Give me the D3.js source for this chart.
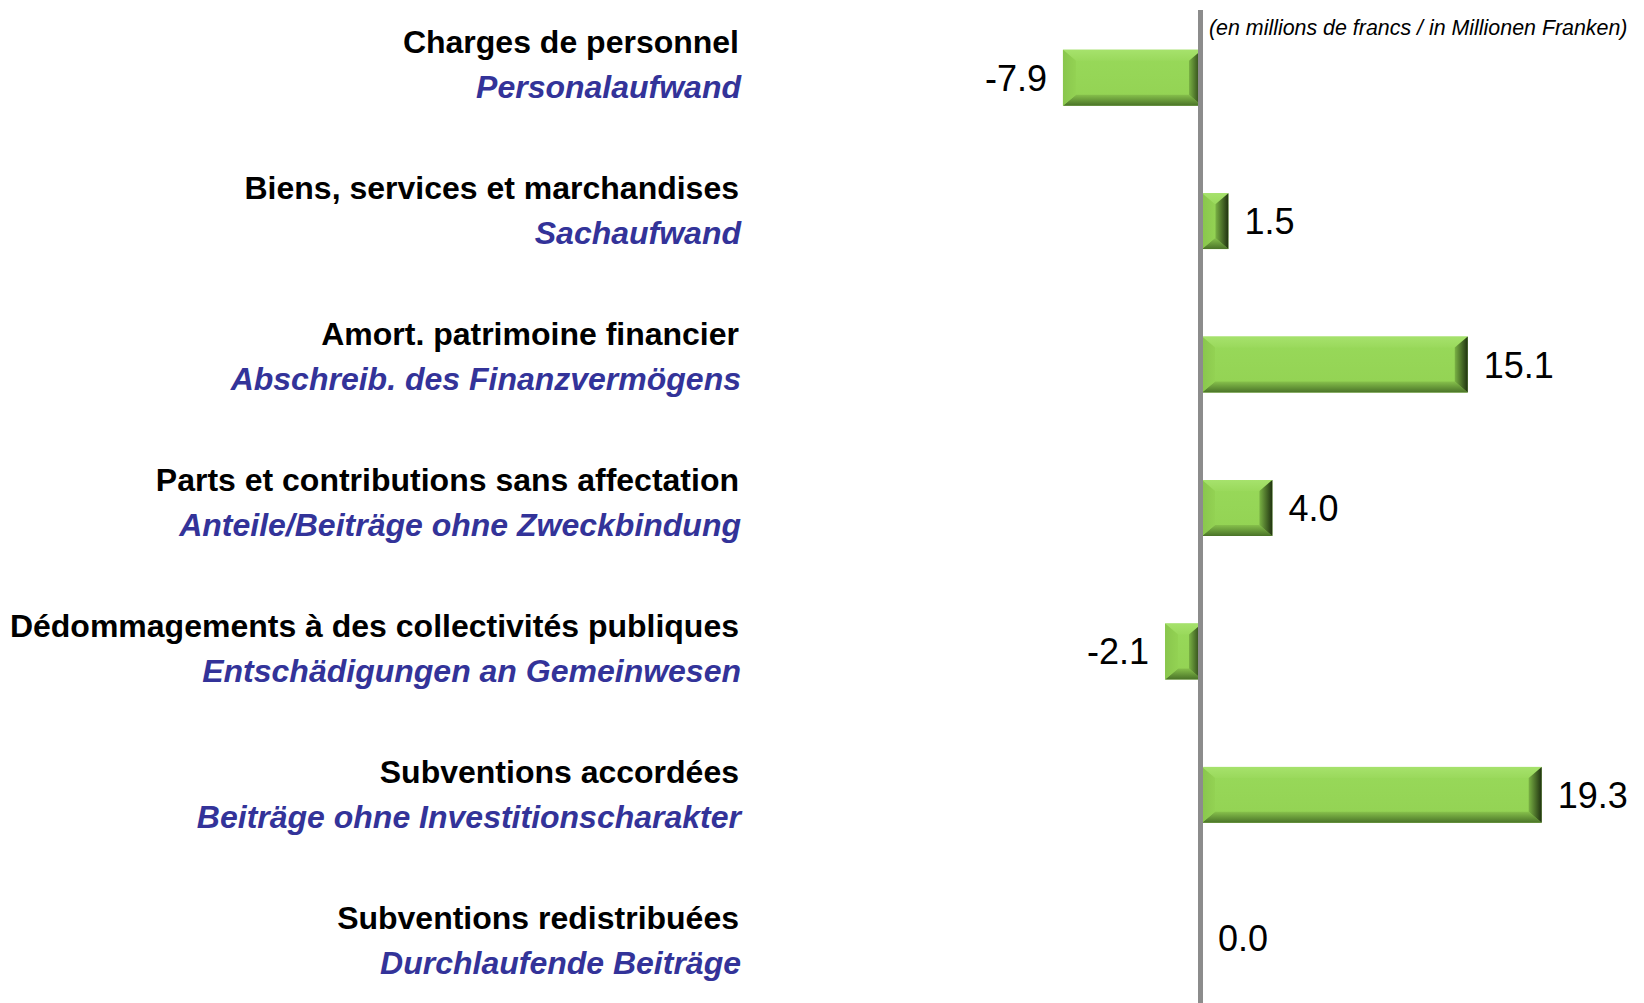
<!DOCTYPE html>
<html>
<head>
<meta charset="utf-8">
<script src="https://cdn.jsdelivr.net/npm/d3@7"></script>
<style>
  body { margin: 0; background: #fff; }
  svg { display: block; }
</style>
</head>
<body>
<div id="chart"></div>
<script>
// data
const labelsFr = [
  "Charges de personnel",
  "Biens, services et marchandises",
  "Amort. patrimoine financier",
  "Parts et contributions sans affectation",
  "Dédommagements à des collectivités publiques",
  "Subventions accordées",
  "Subventions redistribuées"
];
const labelsDe = [
  "Personalaufwand",
  "Sachaufwand",
  "Abschreib. des Finanzvermögens",
  "Anteile/Beiträge ohne Zweckbindung",
  "Entschädigungen an Gemeinwesen",
  "Beiträge ohne Investitionscharakter",
  "Durchlaufende Beiträge"
];
const values = [-7.9, 1.5, 15.1, 4.0, -2.1, 19.3, 0.0];
const unitNote = "(en millions de francs / in Millionen Franken)";

const width = 1644, height = 1003;

const svg = d3.select("#chart")
  .append("svg")
  .attr("width", width)
  .attr("height", height);

const data = values.map((v, i) => ({ fr: labelsFr[i], de: labelsDe[i], value: v, key: i }));

// scales
const x = d3.scaleLinear().domain([-10, 20]).range([1026, 1554]);
const y = d3.scaleBand()
  .domain(data.map(d => d.key))
  .range([6, 1010])
  .paddingInner(0.61)
  .paddingOuter(0.305);
// the category labels sit on a slightly wider grid than the bars
const yLab = d3.scalePoint()
  .domain(data.map(d => d.key))
  .range([64.5, 940]);

// gradients for the bevel look
const defs = svg.append("defs");
function grad(id, x1, y1, x2, y2, stops) {
  const g = defs.append("linearGradient").attr("id", id)
    .attr("x1", x1).attr("y1", y1).attr("x2", x2).attr("y2", y2);
  stops.forEach(s => g.append("stop").attr("offset", s[0]).attr("stop-color", s[1]));
}
grad("face", 0, 0, 0, 1, [[0, "#98d95a"], [1, "#93d253"]]);
grad("bevTop", 0, 0, 0, 1, [[0, "#a6e26c"], [1, "#9ad95c"]]);
grad("bevBot", 0, 0, 0, 1, [[0, "#86c04b"], [1, "#4a7328"]]);
grad("bevLeft", 0, 0, 1, 0, [[0, "#89c64d"], [1, "#93d253"]]);
grad("bevRight", 0, 0, 1, 0, [[0, "#7ab244"], [1, "#1f3210"]]);

const bev = 11;
const bars = svg.append("g").selectAll("g")
  .data(data.filter(d => d.value !== 0))
  .join("g");

bars.each(function (d) {
  const g = d3.select(this);
  const x0 = x(Math.min(0, d.value)), x1 = x(Math.max(0, d.value));
  const y0 = y(d.key), y1 = y(d.key) + y.bandwidth();
  const b = Math.min(bev + 2, (x1 - x0) / 2);
  g.append("rect")
    .attr("x", x0).attr("y", y0)
    .attr("width", x1 - x0).attr("height", y1 - y0)
    .attr("fill", "url(#face)");
  const poly = (pts, fill) => g.append("polygon")
    .attr("points", pts.map(p => p.join(",")).join(" "))
    .attr("fill", fill);
  poly([[x0, y0], [x1, y0], [x1 - b, y0 + bev], [x0 + b, y0 + bev]], "url(#bevTop)");
  poly([[x0, y1], [x1, y1], [x1 - b, y1 - bev], [x0 + b, y1 - bev]], "url(#bevBot)");
  poly([[x0, y0], [x0 + b, y0 + bev], [x0 + b, y1 - bev], [x0, y1]], "url(#bevLeft)");
  poly([[x1, y0], [x1 - b, y0 + bev], [x1 - b, y1 - bev], [x1, y1]], "url(#bevRight)");
});

// zero axis line
svg.append("line")
  .attr("x1", x(0) - 1.5).attr("x2", x(0) - 1.5)
  .attr("y1", 10).attr("y2", height)
  .attr("stroke", "#8c8c8c")
  .attr("stroke-width", 5);

// value labels (plain hyphen for negatives, like the original)
const fmt = v => (v < 0 ? "-" : "") + Math.abs(v).toFixed(1);
svg.append("g").selectAll("text")
  .data(data)
  .join("text")
  .attr("x", d => d.value < 0 ? x(d.value) - 16 : x(d.value) + 16)
  .attr("y", d => y(d.key) + y.bandwidth() / 2)
  .attr("dy", "0.36em")
  .attr("text-anchor", d => d.value < 0 ? "end" : "start")
  .style("font-family", "'Liberation Sans', Arial, sans-serif")
  .style("font-size", "36px")
  .attr("fill", "#000")
  .text(d => fmt(d.value));

// category labels
const lab = svg.append("g").selectAll("g")
  .data(data)
  .join("g");

lab.append("text")
  .attr("x", 739)
  .attr("y", d => yLab(d.key) - 11.5)
  .attr("text-anchor", "end")
  .style("font-family", "'Liberation Sans', Arial, sans-serif")
  .style("font-weight", "bold")
  .style("font-size", "32px")
  .attr("fill", "#000")
  .text(d => d.fr);

lab.append("text")
  .attr("x", 741)
  .attr("y", d => yLab(d.key) + 33.5)
  .attr("text-anchor", "end")
  .style("font-family", "'Liberation Sans', Arial, sans-serif")
  .style("font-weight", "bold")
  .style("font-style", "italic")
  .style("font-size", "32px")
  .attr("fill", "#333399")
  .text(d => d.de);

// unit note
svg.append("text")
  .attr("x", 1209)
  .attr("y", 35)
  .style("font-family", "'Liberation Sans', Arial, sans-serif")
  .style("font-style", "italic")
  .style("font-size", "21.4px")
  .attr("fill", "#000")
  .text(unitNote);
</script>
</body>
</html>
